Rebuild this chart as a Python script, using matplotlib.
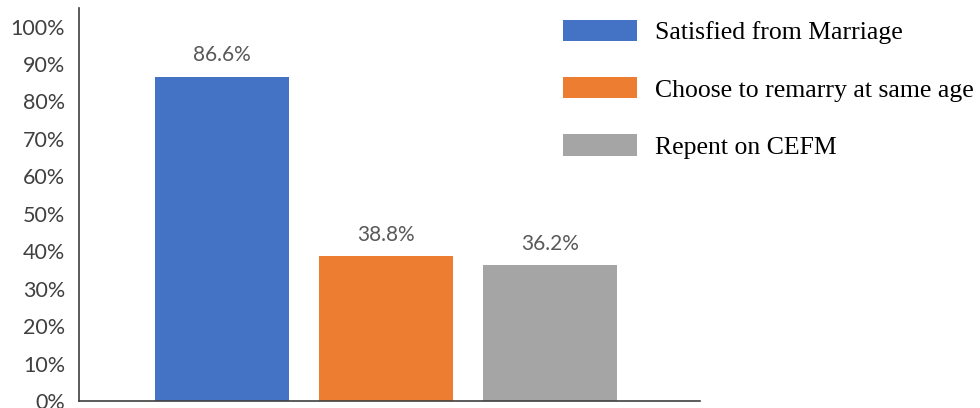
import matplotlib.pyplot as plt
from matplotlib.ticker import FuncFormatter

# survey responses (percent of respondents)
categories = ['Satisfied from Marriage', 'Choose to remarry at same age', 'Repent on CEFM']
values = [86.6, 38.8, 36.2]
colors = ['#4472C4', '#ED7D31', '#A5A5A5']
yticks = [0, 10, 20, 30, 40, 50, 60, 70, 80, 90, 100]

fig = plt.figure(figsize=(9.8, 4.08), dpi=100)
ax = fig.add_axes([0.0806, 0.017, 0.6337, 0.963])

x = list(range(len(values)))
bars = ax.bar(x, values, width=0.82, color=colors, label=categories, zorder=2)

for xi, v in zip(x, values):
    ax.text(xi, v + 3.0, f'{v:.1f}%', ha='center', va='bottom',
            fontsize=15, color='#595959', family='Lato')

ax.set_xlim(-0.872, 2.915)
ax.set_ylim(0, 104.9)
ax.set_yticks(yticks)
ax.yaxis.set_major_formatter(FuncFormatter(lambda v, p: f'{v:.0f}%'))
ax.set_xticks([])
for lbl in ax.get_yticklabels():
    lbl.set_family('Lato')
ax.tick_params(axis='y', length=0, pad=10, labelsize=15.5, labelcolor='#404040')

for side in ['top', 'right']:
    ax.spines[side].set_visible(False)
for side in ['left', 'bottom']:
    ax.spines[side].set_color('#404040')
    ax.spines[side].set_linewidth(1.2)

leg = fig.legend(handles=bars, labels=categories, loc='upper left',
                 bbox_to_anchor=(0.5507, 1.008), frameon=False,
                 prop={'family': 'Liberation Serif', 'size': 18.5},
                 handlelength=2.88, handleheight=0.9, labelspacing=1.27,
                 handletextpad=0.7)

fig.savefig('out.png', dpi=100)
